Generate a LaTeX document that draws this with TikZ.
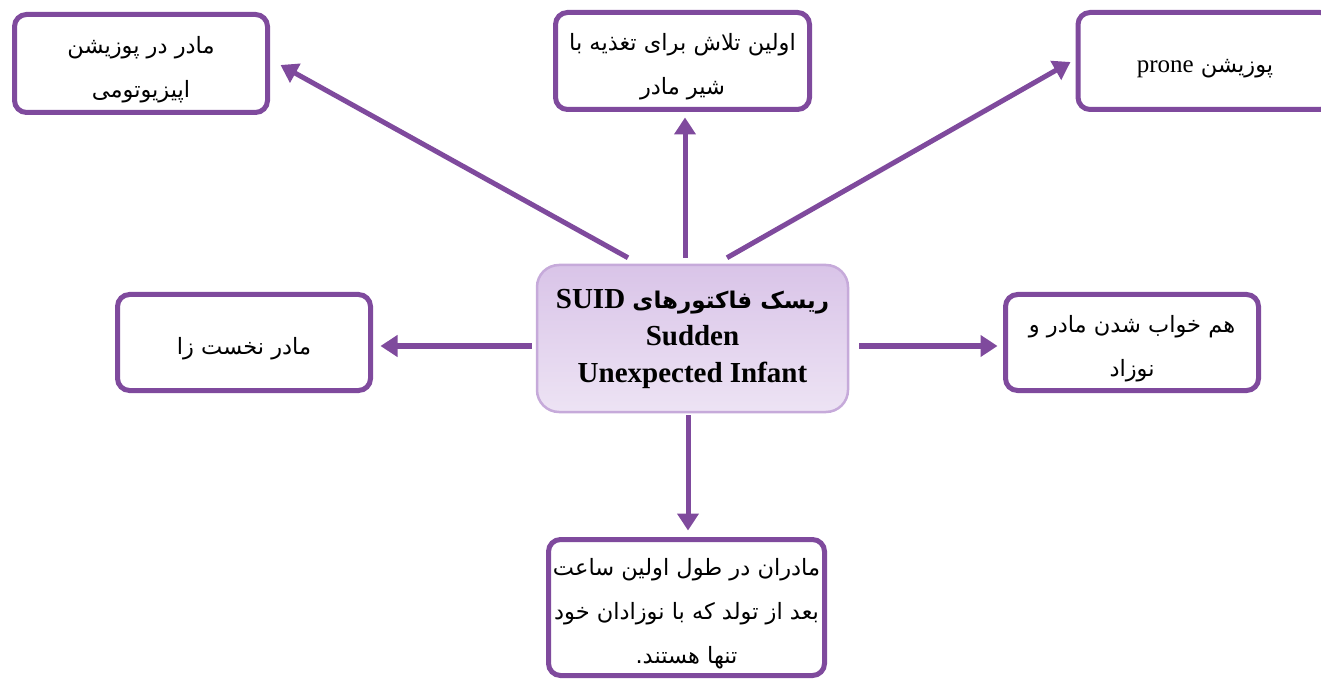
\documentclass[tikz,border=0pt]{standalone}
\usepackage{fontspec}
\setmainfont{Liberation Serif}
\newfontfamily\farsi[Script=Arabic]{DejaVu Sans}
\TeXXeTstate=1
\usetikzlibrary{arrows.meta}
\definecolor{pur}{HTML}{7F4A9D}
\definecolor{ctop}{HTML}{D9C4E8}
\definecolor{cbot}{HTML}{EDE3F4}
\definecolor{cedge}{HTML}{C6AADA}
\newcommand\faline[1]{\beginR #1\endR}
\newcommand\fafirst[1]{\rule{0pt}{29pt}\beginR #1\endR}
\begin{document}
\begin{tikzpicture}[x=1pt,y=1pt,
  box/.style={draw=pur,line width=5pt,rounded corners=12pt,fill=white,align=center,inner sep=0pt,
    font=\farsi\fontsize{22.5}{44}\selectfont},
  cbox/.style={draw=cedge,line width=2.5pt,rounded corners=22pt,top color=ctop,bottom color=cbot,
    align=center,inner sep=0pt,minimum width=311pt,minimum height=147pt,
    font=\fontsize{29}{37}\selectfont\bfseries},
  arr/.style={draw=pur,line width=5pt,-{Triangle[length=17pt,width=21pt]}}]
\useasboundingbox (0,0) rectangle (1321,678);
\clip (0,0) rectangle (1321,678);

\node[box,minimum width=253pt,minimum height=98pt] (tl) at (141,614.5)
  {\fafirst{مادر در پوزیشن}\\\faline{اپیزیوتومی}};
\node[box,minimum width=254pt,minimum height=97pt] (tc) at (682.5,617)
  {\fafirst{اولین تلاش برای تغذیه با}\\\faline{شیر مادر}};
\node[box,minimum width=254pt,minimum height=97pt] (tr) at (1205,617)
  {\fafirst{پوزیشن \beginL{\rmfamily\fontsize{25}{44}\selectfont prone}\endL}};
\node[box,minimum width=253pt,minimum height=96pt] (lm) at (244,335.5)
  {\fafirst{مادر نخست زا}};
\node[box,minimum width=253pt,minimum height=96pt] (rm) at (1132,335.5)
  {\fafirst{هم خواب شدن مادر و}\\\faline{نوزاد}};
\node[box,minimum width=276pt,minimum height=136pt] (bt) at (686.5,70.5)
  {\fafirst{مادران در طول اولین ساعت}\\\faline{بعد از تولد که با نوزادان خود}\\\faline{تنها هستند.}};
\node[cbox] (c) at (692.5,339.5)
  {\beginR{\farsi\fontsize{23}{37}\selectfont ریسک فاکتورهای} \beginL SUID\endL\endR\\Sudden\\Unexpected Infant};

\draw[arr] ([xshift=-64.5pt,yshift=6pt]c.north) -- ([xshift=10.5pt,yshift=-1.5pt]tl.east);
\draw[arr] ([xshift=-7.5pt,yshift=6pt]c.north) -- ([xshift=2.5pt,yshift=-5.5pt]tc.south);
\draw[arr] ([xshift=34.5pt,yshift=6pt]c.north) -- ([xshift=-5pt,yshift=-1pt]tr.west);
\draw[arr] ([xshift=-4pt,yshift=-7.5pt]c.west) -- ([xshift=7.5pt,yshift=-3.5pt]lm.east);
\draw[arr] ([xshift=10pt,yshift=-7.5pt]c.east) -- ([xshift=-5.5pt,yshift=-3.5pt]rm.west);
\draw[arr] ([xshift=-4.5pt,yshift=-2pt]c.south) -- ([xshift=1.5pt,yshift=6.5pt]bt.north);
\end{tikzpicture}
\end{document}
